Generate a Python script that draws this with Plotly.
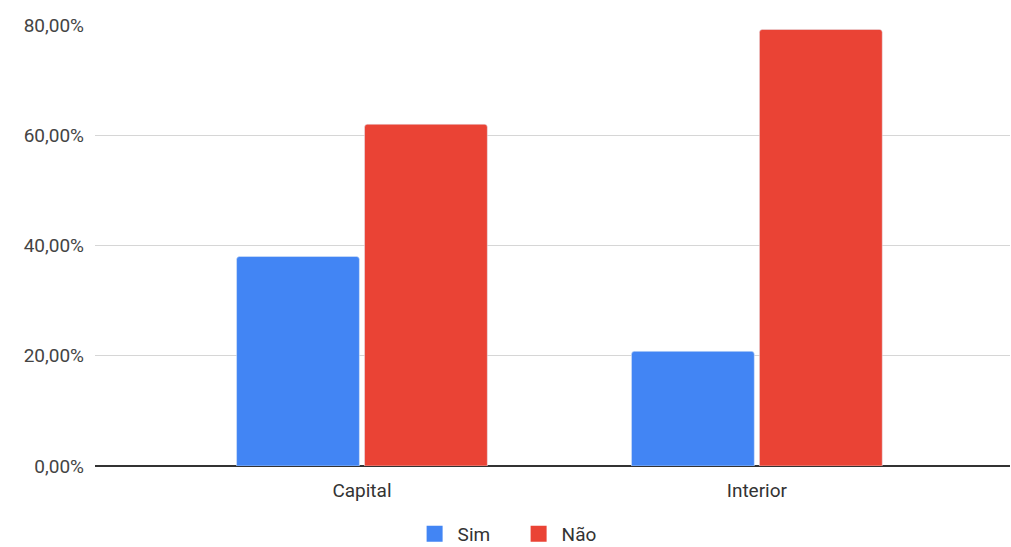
import plotly.graph_objects as go

categories = ["Capital", "Interior"]
sim = [0.380, 0.208]
nao = [0.620, 0.792]
y_ticks = [0, 0.2, 0.4, 0.6, 0.8]

SIM_COLOR = "#4285F4"
NAO_COLOR = "#EA4335"

fig = go.Figure()
fig.add_trace(go.Bar(name="Sim", x=categories, y=sim, marker_color=SIM_COLOR,
                     showlegend=False, legendgroup="sim"))
fig.add_trace(go.Bar(name="Não", x=categories, y=nao, marker_color=NAO_COLOR,
                     showlegend=False, legendgroup="nao"))
# larger square swatches for the legend
fig.add_trace(go.Scatter(name="Sim", x=[None], y=[None], mode="markers",
                         marker=dict(symbol="square", size=16, color=SIM_COLOR),
                         legendgroup="sim"))
fig.add_trace(go.Scatter(name="Não", x=[None], y=[None], mode="markers",
                         marker=dict(symbol="square", size=16, color=NAO_COLOR),
                         legendgroup="nao"))

font_family = "Roboto, Arial, sans-serif"
fig.update_layout(
    width=1011, height=547,
    margin=dict(l=95, r=1, t=25, b=81),
    paper_bgcolor="white", plot_bgcolor="white",
    separators=",.",
    barmode="group", bargap=0.352, bargroupgap=0.04,
    barcornerradius=3,
    font=dict(family=font_family, size=19, color="#444444"),
    xaxis=dict(range=[-0.676, 1.641], showgrid=False, showline=False,
               ticks="", ticklabelstandoff=11,
               tickfont=dict(size=19, color="#333333")),
    yaxis=dict(range=[0, 0.8], tickvals=y_ticks, tickformat=".2%",
               showgrid=True, gridcolor="#d6d6d6", gridwidth=1,
               zeroline=True, zerolinecolor="#333333", zerolinewidth=1.5,
               ticks="", ticklabelstandoff=10,
               tickfont=dict(size=19, color="#444444")),
    legend=dict(orientation="h", xref="container", yref="container",
                x=0.510, xanchor="center", y=0.024, yanchor="middle",
                font=dict(size=19, color="#333333"), itemwidth=36,
                entrywidth=53, tracegroupgap=0),
    showlegend=True,
)

fig.write_html("out.html")
